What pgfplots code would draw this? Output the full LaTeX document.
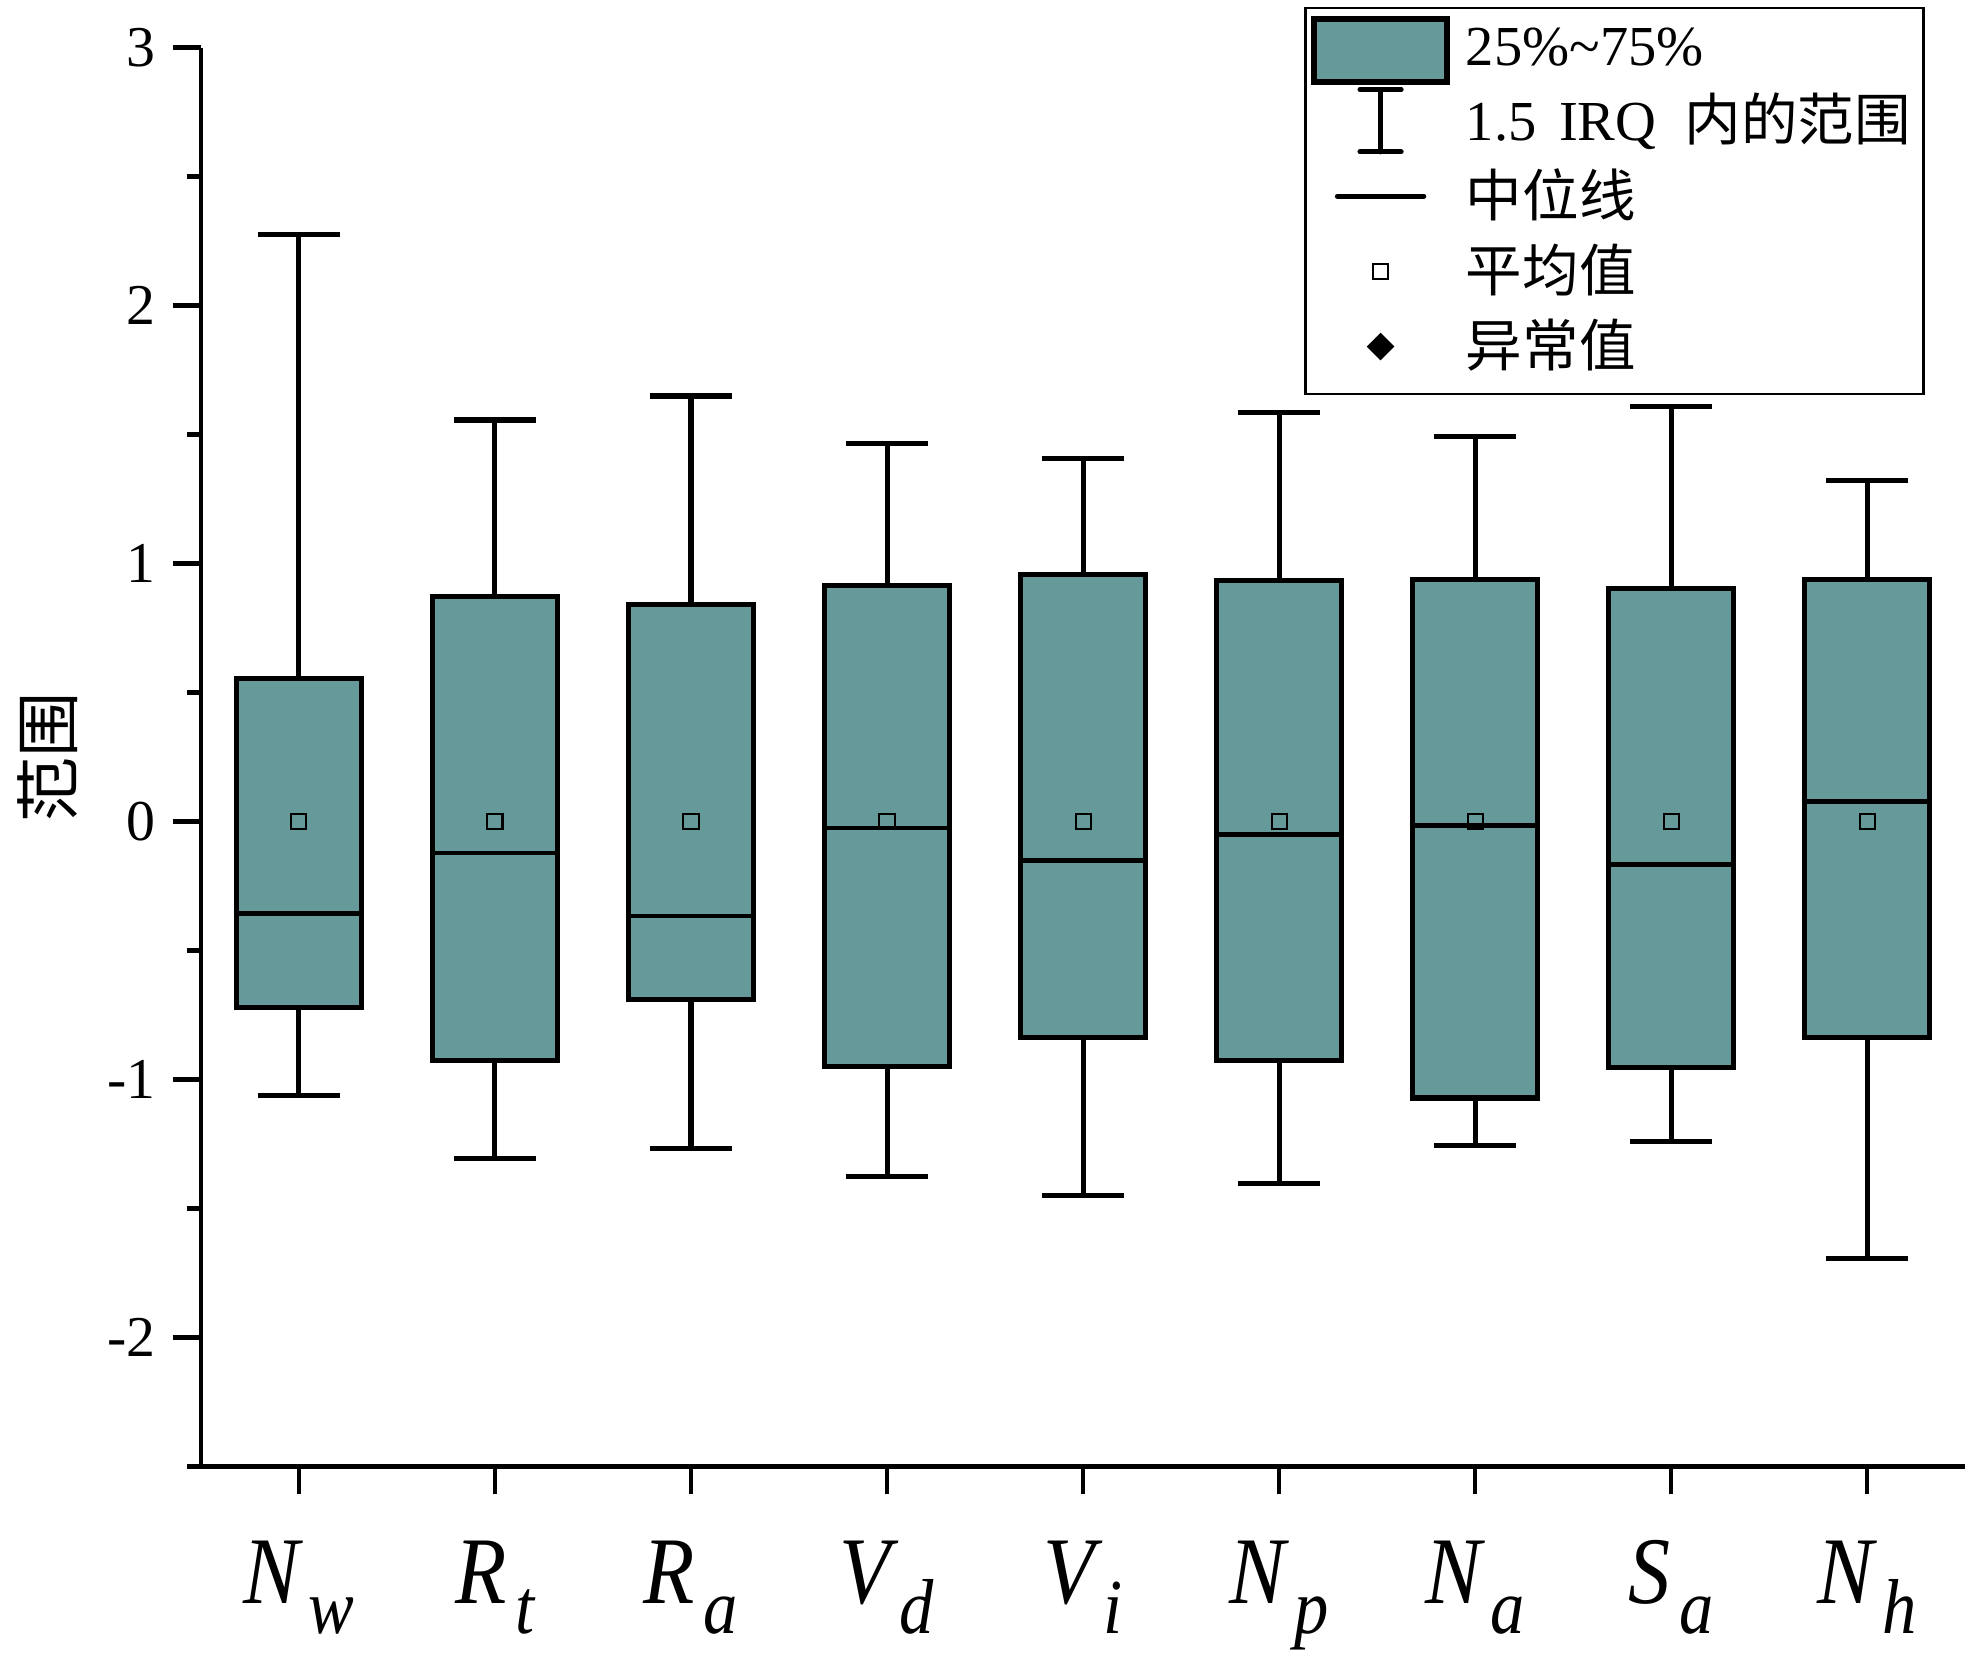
\documentclass[border=0pt]{standalone}
\usepackage{fontspec}
\setmainfont{Liberation Serif}
\newfontfamily\cjk{Noto Sans CJK SC}
\usepackage{pgfplots}
\pgfplotsset{compat=1.18}
\usepgfplotslibrary{statistics}
\definecolor{boxc}{RGB}{102,153,153}

\newcommand\xl[2]{\scalebox{0.88}[1]{\fontsize{19}{21}\selectfont\itshape #1\hspace{2pt}\raisebox{-6pt}{\fontsize{15.5}{17}\selectfont #2}}}

\begin{document}
\begin{tikzpicture}
\begin{axis}[
  width=351.25pt, height=282.5pt, scale only axis,
  xmin=0.5, xmax=9.5, ymin=-2.5, ymax=3,
  axis lines*=left,
  axis line style={line width=0.9pt},
  x axis line style={shorten <=-2pt},
  xtick={1,2,3,4,5,6,7,8,9},
  xticklabels={\xl{N}{w},\xl{R}{t},\xl{R}{a},\xl{V}{d},\xl{V}{i},\xl{N}{p},\xl{N}{a},\xl{S}{a},\xl{N}{h}},
  ytick={-2,-1,0,1,2,3},
  yticklabels={-2,-1,0,1,2,3},
  minor ytick={-2.5,-1.5,-0.5,0.5,1.5,2.5},
  tick align=outside,
  major tick length=5.5pt, minor tick length=2.75pt,
  tick style={black, line width=0.9pt},
  yticklabel style={font=\fontsize{11.5}{13}\selectfont},
  xticklabel style={inner sep=0pt, anchor=north, yshift=-9pt},
  every axis y label/.style={at={(rel axis cs:0,0.5)}, xshift=-30.5pt, rotate=90, anchor=center},
  ylabel={\cjk\fontsize{13}{15}\selectfont 范围},
  boxplot/draw direction=y,
  boxplot/box extend=0.635,
  boxplot/whisker extend=0.42,
  boxplot/every box/.style={draw=black, fill=boxc, line width=1pt},
  boxplot/every whisker/.style={black, line width=1pt},
  boxplot/every median/.style={black, line width=0.9pt},
  boxplot/every average/.style={/tikz/mark=square, /tikz/mark size=1.5pt, draw=black, line width=0.5pt},
  legend cell align=left,
  legend style={at={(rel axis cs:0.977,1.029)}, anchor=north east, draw=black, line width=0.5pt, fill=white,
    inner xsep=1pt, inner ysep=2.5pt, column sep=1.5pt, row sep=1pt,
    nodes={inner sep=1.5pt, text depth=0.15em},
    font=\fontsize{11.25}{13}\selectfont},
]
\addlegendimage{legend image code/.code={\path[draw=none,fill=none] (-14pt,-5pt) rectangle (14pt,5pt);
  \draw[overlay, draw=black, fill=boxc, line width=1.2pt] (-13.3pt,-6.3pt) rectangle (13.3pt,6.3pt);}}
\addlegendentry{25\%\textasciitilde 75\%}
\addlegendimage{legend image code/.code={\path[draw=none,fill=none] (-14pt,-5pt) rectangle (14pt,5pt);
  \draw[overlay, draw=black, line width=1pt, line cap=round] (0pt,-6.2pt) -- (0pt,6.2pt) (-4.1pt,-6.2pt) -- (4.1pt,-6.2pt) (-4.1pt,6.2pt) -- (4.1pt,6.2pt);}}
\addlegendentry{1.5\hspace{0.4em}IRQ\hspace{0.5em}{\cjk 内的范围}}
\addlegendimage{legend image code/.code={\path[draw=none,fill=none] (-14pt,-5pt) rectangle (14pt,5pt);
  \draw[draw=black, line width=1pt, line cap=round] (-8.6pt,0pt) -- (8.6pt,0pt);}}
\addlegendentry{\cjk 中位线}
\addlegendimage{legend image code/.code={\path[draw=none,fill=none] (-14pt,-5pt) rectangle (14pt,5pt);
  \draw[draw=black, line width=0.5pt, fill=white] (-1.5pt,-1.5pt) rectangle (1.5pt,1.5pt);}}
\addlegendentry{\cjk 平均值}
\addlegendimage{legend image code/.code={\path[draw=none,fill=none] (-14pt,-5pt) rectangle (14pt,5pt);
  \fill[black] (0pt,2.4pt) -- (2.4pt,0pt) -- (0pt,-2.4pt) -- (-2.4pt,0pt) -- cycle;}}
\addlegendentry{\cjk 异常值}

\addplot[forget plot, boxplot prepared={draw position=1, lower whisker=-1.06, lower quartile=-0.72, median=-0.355, upper quartile=0.555, upper whisker=2.277, average=0}] coordinates {};
\addplot[forget plot, boxplot prepared={draw position=2, lower whisker=-1.304, lower quartile=-0.925, median=-0.122, upper quartile=0.871, upper whisker=1.557, average=0}] coordinates {};
\addplot[forget plot, boxplot prepared={draw position=3, lower whisker=-1.265, lower quartile=-0.691, median=-0.365, upper quartile=0.842, upper whisker=1.650, average=0}] coordinates {};
\addplot[forget plot, boxplot prepared={draw position=4, lower whisker=-1.377, lower quartile=-0.949, median=-0.024, upper quartile=0.915, upper whisker=1.465, average=0}] coordinates {};
\addplot[forget plot, boxplot prepared={draw position=5, lower whisker=-1.450, lower quartile=-0.837, median=-0.151, upper quartile=0.959, upper whisker=1.406, average=0}] coordinates {};
\addplot[forget plot, boxplot prepared={draw position=6, lower whisker=-1.401, lower quartile=-0.925, median=-0.049, upper quartile=0.934, upper whisker=1.586, average=0}] coordinates {};
\addplot[forget plot, boxplot prepared={draw position=7, lower whisker=-1.255, lower quartile=-1.071, median=-0.015, upper quartile=0.939, upper whisker=1.494, average=0}] coordinates {};
\addplot[forget plot, boxplot prepared={draw position=8, lower whisker=-1.241, lower quartile=-0.954, median=-0.165, upper quartile=0.905, upper whisker=1.611, average=0}] coordinates {};
\addplot[forget plot, boxplot prepared={draw position=9, lower whisker=-1.693, lower quartile=-0.837, median=0.078, upper quartile=0.939, upper whisker=1.324, average=0}] coordinates {};
\end{axis}
\pgfresetboundingbox
\useasboundingbox (-40pt,-38.75pt) rectangle (352pt,292pt);
\end{tikzpicture}
\end{document}
